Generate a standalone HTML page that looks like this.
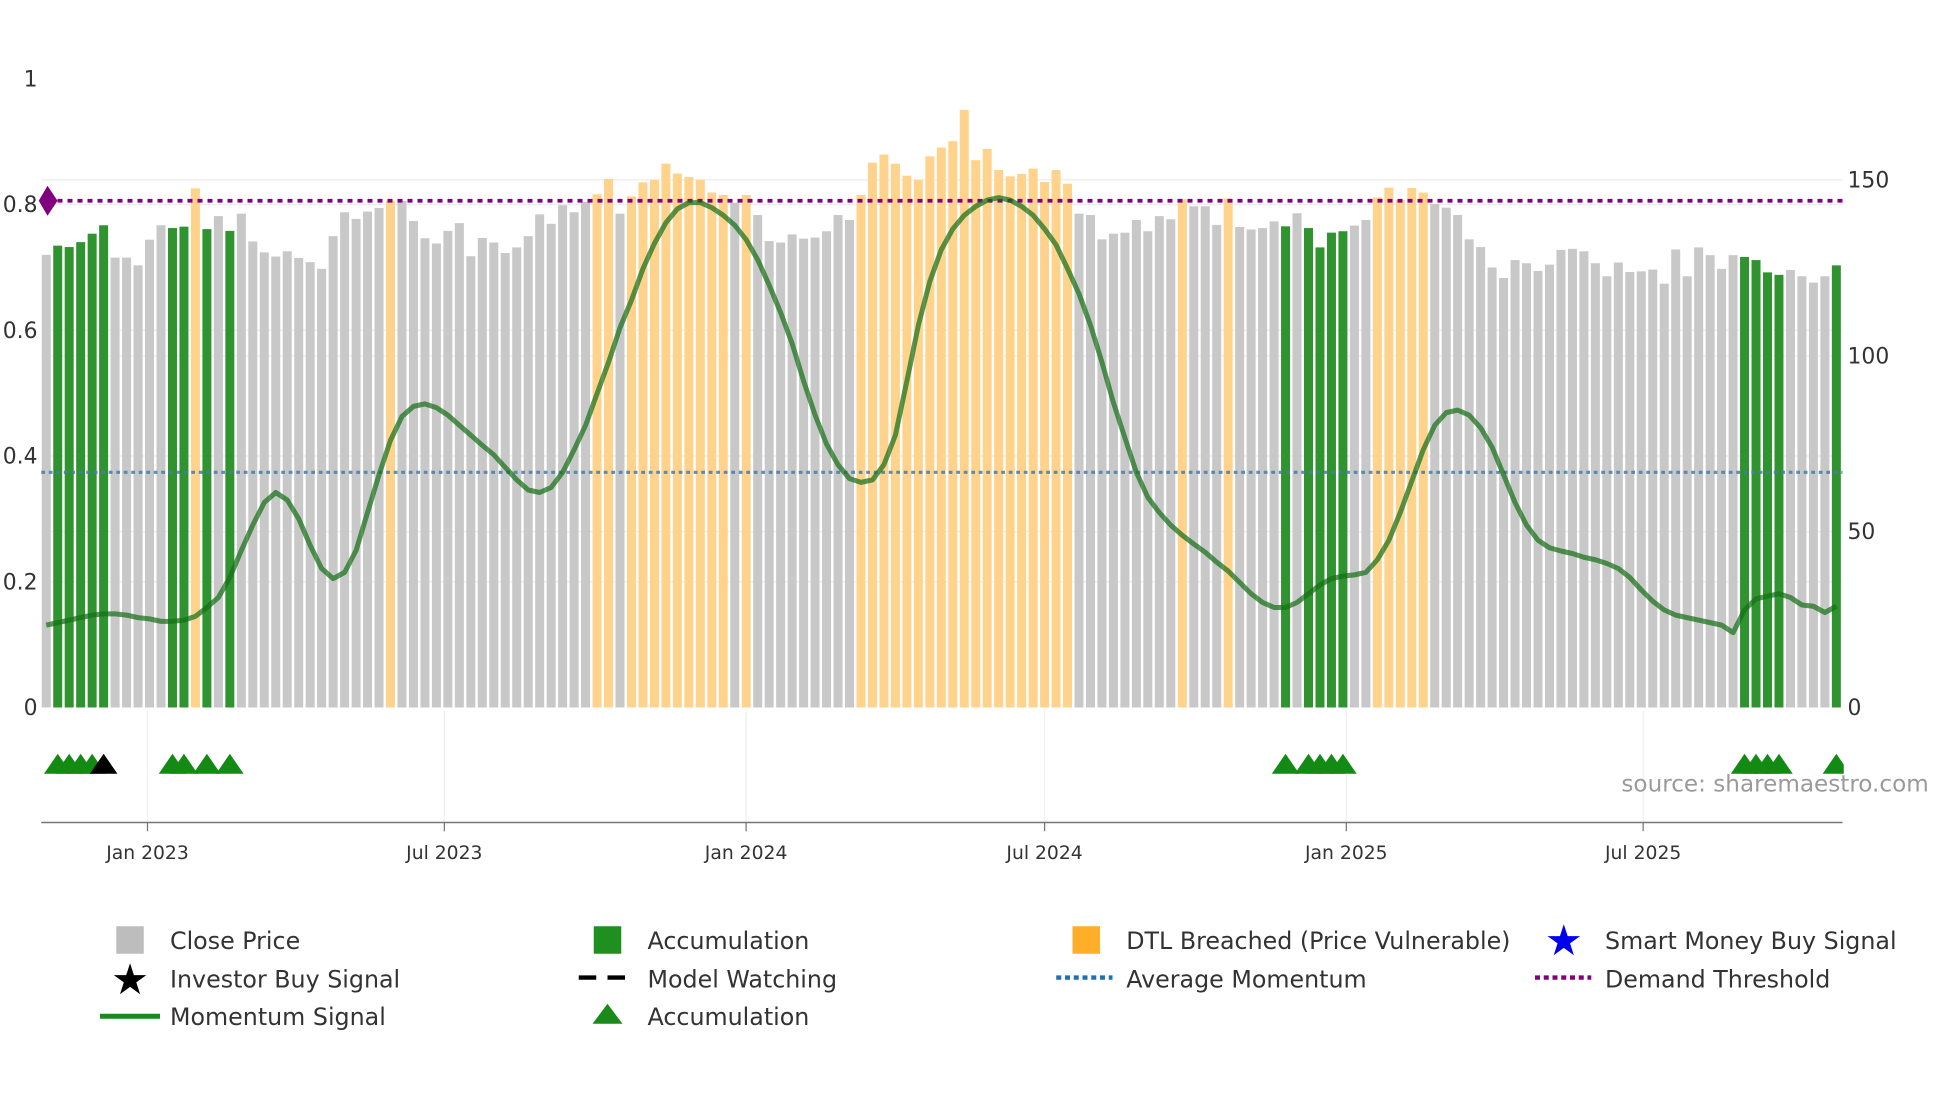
<!DOCTYPE html>
<html><head><meta charset="utf-8"><style>
html,body{margin:0;padding:0;background:#fff;}
svg{display:block;font-family:"DejaVu Sans","Liberation Sans",sans-serif;}
</style></head><body>
<svg id="chart" width="1960" height="1102" viewBox="0 0 1568 881.6" xmlns="http://www.w3.org/2000/svg">
<g id="grid"></g>
<g id="bars"></g>
<g id="lines"></g>
<g id="axes"></g>
<g id="signals"></g>
<text x="1543" y="633" text-anchor="end" font-size="18.5" fill="#9a9a9a">source: sharemaestro.com</text>
<g id="legend" font-size="19" fill="#333">
  <g><rect x="93" y="741" width="22" height="22" fill="#bdbdbd"/><text x="136" y="759">Close Price</text></g>
  <g><rect x="475" y="741" width="22" height="22" fill="#1f8f1f"/><text x="518" y="759">Accumulation</text></g>
  <g><rect x="858" y="741" width="22" height="22" fill="#ffae2a"/><text x="901" y="759">DTL Breached (Price Vulnerable)</text></g>
  <g><text x="1251" y="764" font-size="34" fill="#0000ee" text-anchor="middle">★</text><text x="1284" y="759">Smart Money Buy Signal</text></g>
  <g><text x="104" y="795" font-size="34" fill="#000" text-anchor="middle">★</text><text x="136" y="790">Investor Buy Signal</text></g>
  <g><line x1="463" y1="782" x2="508" y2="782" stroke="#000" stroke-width="3.5" stroke-dasharray="14,9"/><text x="518" y="790">Model Watching</text></g>
  <g><line x1="845" y1="782" x2="890" y2="782" stroke="#1f6fb4" stroke-width="3.5" stroke-dasharray="4,3"/><text x="901" y="790">Average Momentum</text></g>
  <g><line x1="1228" y1="782" x2="1273" y2="782" stroke="#800080" stroke-width="3.5" stroke-dasharray="4,3"/><text x="1284" y="790">Demand Threshold</text></g>
  <g><line x1="80" y1="813" x2="128" y2="813" stroke="#1a8a1a" stroke-width="4"/><text x="136" y="820">Momentum Signal</text></g>
  <g><polygon points="474,819 486,803 498,819" fill="#1a8a1a"/><text x="518" y="820">Accumulation</text></g>
</g>
</svg>
<script>
const prices=[128.7,131.3,130.9,132.3,134.7,137.1,127.9,127.9,125.7,133.0,137.1,136.3,136.7,147.6,136.0,139.7,135.5,140.4,132.5,129.4,128.2,129.7,127.8,126.6,124.7,134.0,140.8,138.9,141.0,142.0,144.1,144.0,138.3,133.4,131.9,135.5,137.7,128.3,133.5,132.2,129.2,130.8,134.0,140.2,137.5,142.8,140.8,143.7,145.9,150.3,140.4,145.3,149.3,150.0,154.6,151.8,150.8,150.0,146.4,145.7,143.5,145.7,140.0,132.6,132.2,134.5,133.3,133.6,135.4,140.0,138.6,145.7,154.9,157.2,154.6,151.2,150.0,156.7,159.2,161.0,169.9,155.6,158.8,152.8,151.0,151.7,153.2,149.4,152.8,148.9,140.4,140.0,133.1,134.7,135.0,138.6,135.4,139.7,138.8,144.5,142.5,142.5,137.2,144.7,136.6,135.9,136.3,138.2,136.8,140.5,136.3,130.8,135.0,135.4,137.0,138.6,145.0,147.8,144.3,147.7,146.4,143.2,142.1,140.0,133.1,130.9,125.1,122.1,127.2,126.3,124.1,125.9,130.1,130.4,129.7,126.3,122.6,126.5,123.8,124.0,124.5,120.5,130.2,122.6,130.8,128.6,124.7,128.6,128.1,127.2,123.7,123.0,124.4,122.6,120.8,122.6,125.7];
const accumulationBars=[2,3,4,5,6,12,13,15,17,109,111,112,113,114,149,150,151,152,157];
const dtlBars=[14,31,49,50,52,53,54,55,56,57,58,59,60,62,72,73,74,75,76,77,78,79,80,81,82,83,84,85,86,87,88,89,90,100,104,117,118,119,120,121];
const momentum=[.131,.135,.139,.143,.147,.149,.149,.147,.143,.141,.137,.137,.139,.145,.159,.175,.207,.250,.290,.326,.342,.330,.300,.258,.221,.205,.215,.250,.310,.370,.425,.463,.479,.483,.477,.465,.449,.433,.417,.402,.382,.362,.346,.342,.350,.374,.410,.449,.499,.549,.604,.648,.698,.738,.771,.793,.803,.803,.795,.783,.767,.744,.712,.672,.628,.579,.519,.465,.419,.386,.364,.358,.362,.386,.433,.519,.608,.678,.728,.761,.783,.797,.807,.811,.807,.797,.783,.761,.736,.698,.658,.608,.549,.485,.429,.374,.334,.310,.290,.274,.260,.247,.231,.217,.199,.181,.167,.159,.159,.167,.181,.195,.205,.209,.211,.215,.235,.266,.310,.360,.410,.449,.469,.473,.465,.445,.414,.370,.326,.290,.266,.254,.249,.245,.239,.235,.229,.221,.207,.187,.169,.155,.147,.143,.139,.135,.131,.119,.155,.173,.177,.181,.175,.163,.161,.151,.161];
const avgMomentum=0.374;
const demandThreshold=0.806;
const accumulationSignals=[2,3,4,5,12,13,15,17,109,111,112,113,114,149,150,151,152,157];
const investorSignals=[6];
const leftTicks=[0,0.2,0.4,0.6,0.8,1];
const leftTickLabels=["0","0.2","0.4","0.6","0.8","1"];
const rightTicks=[0,50,100,150];
const dateTickLabels=["Jan 2023","Jul 2023","Jan 2024","Jul 2024","Jan 2025","Jul 2025"];
const dateTickDays=[0,181,365,547,731,912];

const NS="http://www.w3.org/2000/svg";
const X0=37,STEP=9.18,BW=7.2,Y0=566;
const xBar=i=>X0+(i-1)*STEP;
const yL=v=>Y0-v*503;
const yR=p=>Y0-p*2.814;
const xDay=d=>118+d*1.312;
function mk(tag,attrs,parent){const e=document.createElementNS(NS,tag);for(const k in attrs)e.setAttribute(k,attrs[k]);parent.appendChild(e);return e;}
const grid=document.getElementById('grid'),bars=document.getElementById('bars'),lines=document.getElementById('lines'),axes=document.getElementById('axes'),sig=document.getElementById('signals');

leftTicks.forEach((t,i)=>{
  if(t>0&&t<1){const g=mk('line',{x1:33,x2:1474,y1:yL(t),y2:yL(t),stroke:'#ececec','stroke-width':1},grid);
  
  }
  const tx=mk('text',{x:30,y:yL(t)+6,'text-anchor':'end','font-size':17.5,fill:'#333'},axes);
  tx.textContent=leftTickLabels[i];
  
  
});
rightTicks.forEach(t=>{
  if(t>0){const g=mk('line',{x1:33,x2:1474,y1:yR(t),y2:yR(t),stroke:'#ececec','stroke-width':1},grid);
  
  }
  const tx=mk('text',{x:1478,y:yR(t)+6,'font-size':17.5,fill:'#333'},axes);
  tx.textContent=String(t);
  
  
});
prices.forEach((p,k)=>{
  const i=k+1;
  let c='#c8c8c8';
  if(dtlBars.includes(i))c='#ffd38c';
  if(accumulationBars.includes(i))c='#2f942f';
  const r=mk('rect',{x:xBar(i)-BW/2,y:yR(p),width:BW,height:Y0-yR(p),fill:c},bars);
  
  
});
const avg=mk('line',{x1:33,x2:1474,y1:yL(avgMomentum),y2:yL(avgMomentum),stroke:'#4a7ba7','stroke-width':2.5,'stroke-dasharray':'3,3',opacity:0.85},lines);


const dem=mk('line',{x1:38,x2:1474,y1:yL(demandThreshold),y2:yL(demandThreshold),stroke:'#800080','stroke-width':3,'stroke-dasharray':'4,4'},lines);


const dm=mk('polygon',{points:`38,${yL(demandThreshold)-12} 46,${yL(demandThreshold)} 38,${yL(demandThreshold)+12} 31,${yL(demandThreshold)}`,fill:'#800080'},lines);


const pts=momentum.map((v,k)=>`${xBar(k+1).toFixed(1)},${yL(v).toFixed(1)}`).join(' ');
const ml=mk('polyline',{points:pts,fill:'none',stroke:'#166f16','stroke-width':4,'stroke-linejoin':'round',opacity:0.72},lines);



const ax=mk('line',{x1:33,x2:1474,y1:658,y2:658,stroke:'#777','stroke-width':1.2},axes);


dateTickDays.forEach((d,i)=>{
  const x=xDay(d);
  const vg=mk('line',{x1:x,x2:x,y1:568,y2:658,stroke:'#eef0f2','stroke-width':1},grid);
  
  
  const tk=mk('line',{x1:x,x2:x,y1:658,y2:665,stroke:'#777','stroke-width':1},axes);
  
  
  const tx=mk('text',{x:x,y:687,'text-anchor':'middle','font-size':15,fill:'#333'},axes);
  tx.textContent=dateTickLabels[i];
  
  
});
const clip=mk('clipPath',{id:'pc'},sig);mk('rect',{x:30,y:560,width:1445,height:100},clip);
const sg=mk('g',{'clip-path':'url(#pc)'},sig);
accumulationSignals.forEach(i=>{
  const x=xBar(i);
  const t=mk('polygon',{points:`${x-11},619 ${x},603 ${x+11},619`,fill:'#138a13'},sg);
  
  
});
investorSignals.forEach(i=>{
  const x=xBar(i);
  const t=mk('polygon',{points:`${x-11},619 ${x},603 ${x+11},619`,fill:'#000'},sg);
  
  
});
</script>
</body></html>
